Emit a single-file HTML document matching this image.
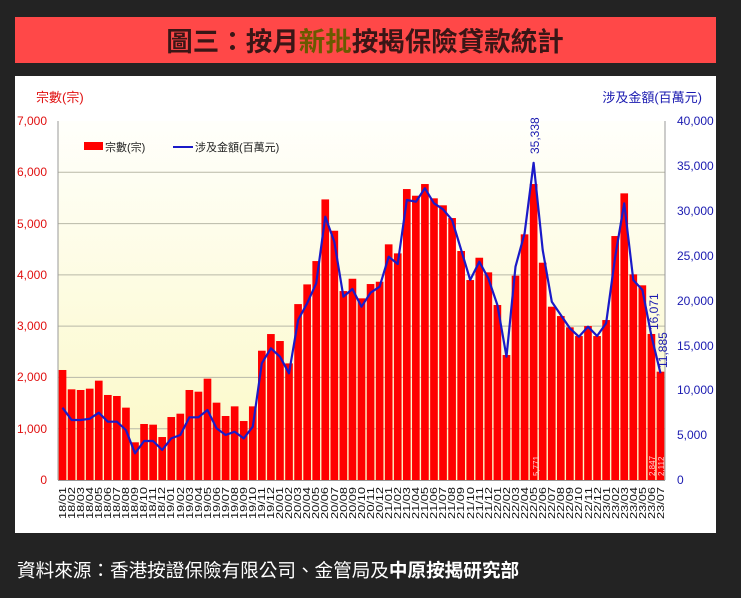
<!DOCTYPE html>
<html><head><meta charset="utf-8"><style>
html,body{margin:0;padding:0;background:#232323;width:741px;height:598px;overflow:hidden}
svg{display:block}
text{font-family:"Liberation Sans","Noto Sans CJK TC",sans-serif}
</style></head><body>
<svg id="s" width="741" height="598" viewBox="0 0 741 598">
<defs><linearGradient id="g" x1="0" y1="0" x2="0" y2="1"><stop offset="0" stop-color="#fffffb"/><stop offset="1" stop-color="#fbf8c4"/></linearGradient></defs>
<rect x="0" y="0" width="741" height="598" fill="#232323"/>
<rect x="15" y="17" width="701" height="46" fill="#ff4848"/>
<text x="365" y="51" text-anchor="middle" font-size="26.5" fill="#3a1616" font-family="'Noto Sans CJK TC',sans-serif" font-weight="bold">圖三：按月<tspan fill="#6a5a00">新批</tspan>按揭保險貸款統計</text>
<rect x="15" y="76" width="701" height="457" fill="#ffffff"/>
<rect x="58" y="121" width="607" height="359" fill="url(#g)"/>
<g id="grid" stroke="#b8b8a8" stroke-width="1"></g>
<g id="bars" fill="#ff0000"></g>
<polyline id="line" fill="none" stroke="#1a1ac8" stroke-width="2.2" stroke-linejoin="round"/>
<line x1="58" y1="121" x2="58" y2="480" stroke="#999"/>
<line x1="665" y1="121" x2="665" y2="480" stroke="#999"/>
<line x1="58" y1="480.5" x2="665" y2="480.5" stroke="#999"/>
<g font-size="12" fill="#e01010" text-anchor="end">
<text x="47" y="125">7,000</text><text x="47" y="176">6,000</text><text x="47" y="228">5,000</text><text x="47" y="279">4,000</text><text x="47" y="330">3,000</text><text x="47" y="381">2,000</text><text x="47" y="433">1,000</text><text x="47" y="484">0</text>
</g>
<g font-size="12" fill="#1a1ab0" text-anchor="start">
<text x="677" y="125">40,000</text><text x="677" y="170">35,000</text><text x="677" y="215">30,000</text><text x="677" y="260">25,000</text><text x="677" y="305">20,000</text><text x="677" y="350">15,000</text><text x="677" y="394">10,000</text><text x="677" y="439">5,000</text><text x="677" y="484">0</text>
</g>
<text x="36" y="102" font-size="13" fill="#e01010">宗數(宗)</text>
<text x="702" y="102" font-size="13" fill="#1a1ab0" text-anchor="end">涉及金額(百萬元)</text>
<rect x="84" y="142" width="19" height="8" fill="#ff0000"/>
<text x="105" y="151" font-size="11" fill="#222">宗數(宗)</text>
<line x1="173" y1="147" x2="193" y2="147" stroke="#1a1ac8" stroke-width="2"/>
<text x="195" y="151" font-size="11" fill="#222">涉及金額(百萬元)</text>
<g font-size="12" fill="#1a1ab0">
<text transform="translate(539,154) rotate(-90)">35,338</text>
<text transform="translate(658,330) rotate(-90)">16,071</text>
<text transform="translate(667,368) rotate(-90)">11,885</text>
</g>
<g font-size="8" fill="#ffd0d0">
<text transform="translate(539,476) rotate(-90)">5,771</text>
<text transform="translate(655,476) rotate(-90)">2,847</text>
<text transform="translate(664,476) rotate(-90)">2,112</text>
</g>
<g transform="rotate(-90)" font-size="10" fill="#111" text-anchor="end" id="lbl">
<text x="-487" y="66">18/01</text><text x="-487" y="75">18/02</text><text x="-487" y="84">18/03</text><text x="-487" y="93">18/04</text><text x="-487" y="102">18/05</text><text x="-487" y="111">18/06</text><text x="-487" y="120">18/07</text><text x="-487" y="129">18/08</text><text x="-487" y="138">18/09</text><text x="-487" y="147">18/10</text><text x="-487" y="156">18/11</text><text x="-487" y="165">18/12</text>
<text x="-487" y="174">19/01</text><text x="-487" y="184">19/02</text><text x="-487" y="193">19/03</text><text x="-487" y="202">19/04</text><text x="-487" y="211">19/05</text><text x="-487" y="220">19/06</text><text x="-487" y="229">19/07</text><text x="-487" y="238">19/08</text><text x="-487" y="247">19/09</text><text x="-487" y="256">19/10</text><text x="-487" y="265">19/11</text><text x="-487" y="274">19/12</text>
<text x="-487" y="283">20/01</text><text x="-487" y="292">20/02</text><text x="-487" y="301">20/03</text><text x="-487" y="310">20/04</text><text x="-487" y="319">20/05</text><text x="-487" y="328">20/06</text><text x="-487" y="338">20/07</text><text x="-487" y="347">20/08</text><text x="-487" y="356">20/09</text><text x="-487" y="365">20/10</text><text x="-487" y="374">20/11</text><text x="-487" y="383">20/12</text>
<text x="-487" y="392">21/01</text><text x="-487" y="401">21/02</text><text x="-487" y="410">21/03</text><text x="-487" y="419">21/04</text><text x="-487" y="428">21/05</text><text x="-487" y="437">21/06</text><text x="-487" y="446">21/07</text><text x="-487" y="455">21/08</text><text x="-487" y="464">21/09</text><text x="-487" y="474">21/10</text><text x="-487" y="483">21/11</text><text x="-487" y="492">21/12</text>
<text x="-487" y="501">22/01</text><text x="-487" y="510">22/02</text><text x="-487" y="519">22/03</text><text x="-487" y="528">22/04</text><text x="-487" y="537">22/05</text><text x="-487" y="546">22/06</text><text x="-487" y="555">22/07</text><text x="-487" y="564">22/08</text><text x="-487" y="573">22/09</text><text x="-487" y="582">22/10</text><text x="-487" y="592">22/11</text><text x="-487" y="601">22/12</text>
<text x="-487" y="610">23/01</text><text x="-487" y="619">23/02</text><text x="-487" y="628">23/03</text><text x="-487" y="637">23/04</text><text x="-487" y="646">23/05</text><text x="-487" y="655">23/06</text><text x="-487" y="664">23/07</text>
</g>
<text x="17" y="577" font-size="18.6" fill="#ffffff">資料來源：香港按證保險有限公司、金管局及<tspan font-weight="bold">中原按揭研究部</tspan></text>
</svg>
<script>
var c=[2145,1768,1755,1781,1937,1658,1638,1411,735,1092,1079,838,1228,1293,1755,1722,1976,1508,1248,1436,1150,1436,2521,2846,2710,2274,3430,3814,4269,5471,4860,3684,3924,3542,3821,3866,4595,4419,5673,5543,5771,5492,5356,5108,4465,3899,4334,4049,3412,2437,3984,4790,5771,4237,3379,3197,2977,2807,3002,2807,3119,4757,5589,4010,3796,2847,2112];
var v=[8060,6690,6690,6820,7500,6500,6500,5570,2970,4345,4345,3340,4640,5010,6990,6990,7800,5760,5010,5380,4640,5940,13000,14670,13740,11890,17830,19690,21920,29340,26550,20420,21280,19310,20870,21540,24880,24070,31200,31010,32500,30830,30160,28970,25630,22280,24320,22470,19500,13740,23770,27490,35338,25630,19870,18380,16900,15970,17080,16040,17460,24880,30830,22280,21170,16071,11885];
var ns="http://www.w3.org/2000/svg",b=document.getElementById("bars"),gr=document.getElementById("grid"),w=607/67,pts=[];
for(var k=1;k<7;k++){var l=document.createElementNS(ns,"line");var y=480-k*359/7;l.setAttribute("x1",58);l.setAttribute("x2",665);l.setAttribute("y1",y);l.setAttribute("y2",y);gr.appendChild(l);}
for(var i=0;i<67;i++){var r=document.createElementNS(ns,"rect"),h=c[i]/7000*359;r.setAttribute("x",58+i*w+0.7);r.setAttribute("width",w-1.4);r.setAttribute("y",480-h);r.setAttribute("height",h);b.appendChild(r);
pts.push((58+(i+0.5)*w).toFixed(1)+","+(480-v[i]/40000*359).toFixed(1));}
document.getElementById("line").setAttribute("points",pts.join(" "));
document.querySelectorAll("#lbl text").forEach(function(t){t.setAttribute("textLength","32");t.setAttribute("lengthAdjust","spacingAndGlyphs");});
</script>
</body></html>
